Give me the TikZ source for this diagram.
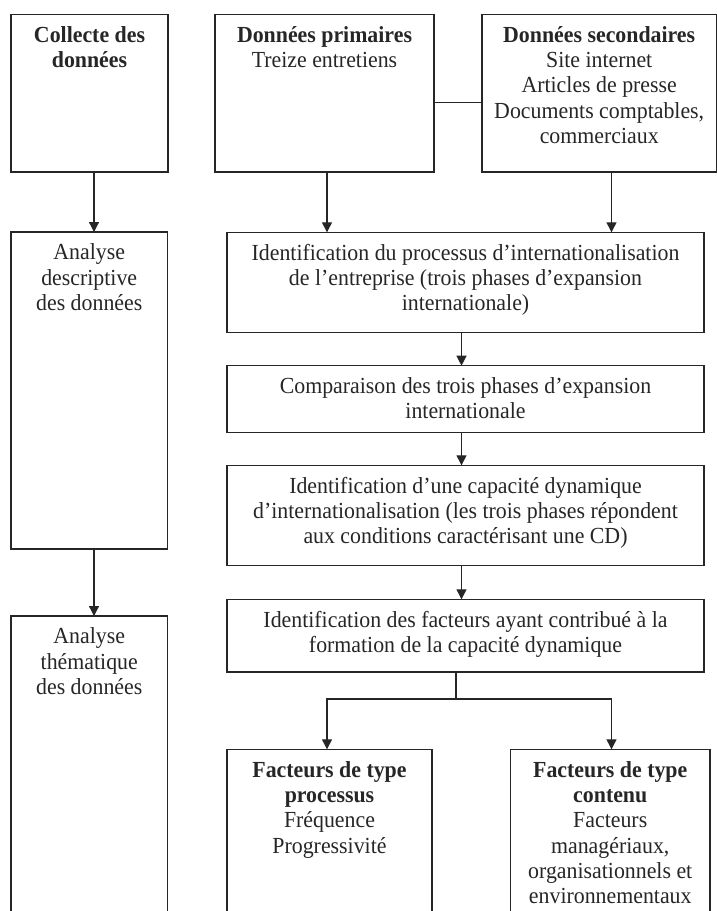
\documentclass[tikz,border=0pt]{standalone}
\usepackage{fontspec}
\setmainfont{Liberation Serif}[FakeStretch=0.95]
\usetikzlibrary{arrows.meta}
\definecolor{ink}{gray}{0.15}
\newcommand\mkbox[5]{\node[box, minimum width={#4-#2}, minimum height={#5-#3}] (#1) at ({(#2+#4)/2},{(#3+#5)/2}) {};}
\newcommand\boxtext[3]{\node[txt] (#1) at ([yshift=-10.7pt]#2.north) {\rule{0pt}{17pt}#3};}
\begin{document}
\begin{tikzpicture}[x=1pt,y=-1pt,
  box/.style={draw=ink, line width=1.2pt, inner sep=0pt, outer sep=0pt},
  txt/.style={align=center, font=\fontsize{23}{25.3}\selectfont, text=ink, inner sep=0pt, anchor=north},
  arr/.style={draw=ink, line width=1.2pt, -{Triangle[length=10pt,width=10pt]}},
  ln/.style={draw=ink, line width=1.2pt}]
\useasboundingbox (0,0) rectangle (717,911);
\clip (0,0) rectangle (717,911);
% boxes
\mkbox{collecte}{11}{14.3}{168}{172}
\mkbox{prim}{215}{14.3}{434}{172}
\mkbox{sec}{482}{14.3}{716.4}{172}
\mkbox{desc}{11}{232}{167.5}{549}
\mkbox{them}{11}{616}{167.5}{935}
\mkbox{ida}{227}{232.3}{704}{332.3}
\mkbox{comp}{227}{365.7}{704}{432.3}
\mkbox{idcd}{227}{465.3}{704}{565.7}
\mkbox{idf}{227}{599.3}{704}{672}
\mkbox{proc}{227}{749.3}{432}{935}
\mkbox{cont}{510.5}{749.3}{710}{935}
% texts
\boxtext{tcollecte}{collecte}{\textbf{Collecte des}\\\textbf{données}}
\boxtext{tprim}{prim}{\textbf{Données primaires}\\Treize entretiens}
\boxtext{tsec}{sec}{\textbf{Données secondaires}\\Site internet\\Articles de presse\\Documents comptables,\\commerciaux}
\boxtext{tdesc}{desc}{Analyse\\descriptive\\des données}
\boxtext{tthem}{them}{Analyse\\thématique\\des données}
\boxtext{tida}{ida}{Identification du processus d’internationalisation\\de l’entreprise (trois phases d’expansion\\internationale)}
\boxtext{tcomp}{comp}{Comparaison des trois phases d’expansion\\internationale}
\boxtext{tidcd}{idcd}{Identification d’une capacité dynamique\\d’internationalisation (les trois phases répondent\\aux conditions caractérisant une CD)}
\boxtext{tidf}{idf}{Identification des facteurs ayant contribué à la\\formation de la capacité dynamique}
\boxtext{tproc}{proc}{\textbf{Facteurs de type}\\\textbf{processus}\\Fréquence\\Progressivité}
\boxtext{tcont}{cont}{\textbf{Facteurs de type}\\\textbf{contenu}\\Facteurs\\managériaux,\\organisationnels et\\environnementaux}
% guide coordinates
\coordinate (xc) at (94,0);
\coordinate (xl) at (327,0);
\coordinate (xr) at (611.5,0);
\coordinate (xm) at (461.5,0);
\coordinate (br) at (456,699);
% connectors
\draw[arr] (collecte.south -| xc) -- (desc.north -| xc);
\draw[arr] (desc.south -| xc) -- (them.north -| xc);
\draw[ln] (prim.east |- 0,102.3) -- (sec.west |- 0,102.3);
\draw[arr] (prim.south -| xl) -- (ida.north -| xl);
\draw[arr] (sec.south -| xr) -- (ida.north -| xr);
\draw[arr] (ida.south -| xm) -- (comp.north -| xm);
\draw[arr] (comp.south -| xm) -- (idcd.north -| xm);
\draw[arr] (idcd.south -| xm) -- (idf.north -| xm);
\draw[ln] (idf.south -| br) -- (br);
\draw[arr] (br) -| (proc.north -| xl);
\draw[arr] (br) -| (cont.north -| xr);
\end{tikzpicture}
\end{document}
